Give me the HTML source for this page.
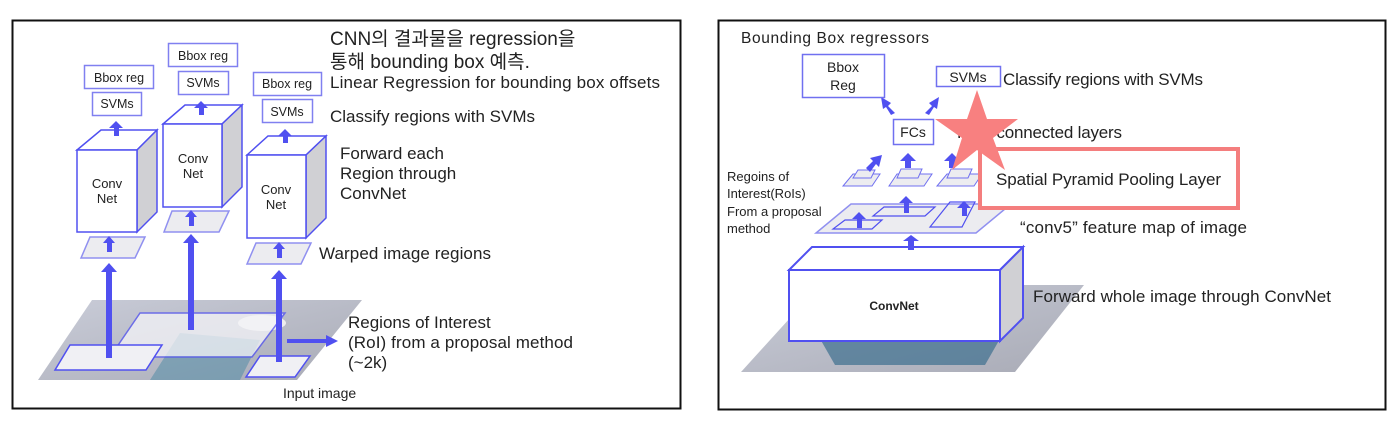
<!DOCTYPE html>
<html><head><meta charset="utf-8"><style>
html,body{margin:0;padding:0;background:#fff;}
svg{display:block;}
text{font-family:"Liberation Sans","Noto Sans CJK KR",sans-serif;fill:#222;}
</style></head><body>
<svg width="1388" height="422" viewBox="0 0 1388 422" xmlns="http://www.w3.org/2000/svg">
<defs>
<linearGradient id="g1" x1="0" y1="0" x2="1" y2="1">
<stop offset="0" stop-color="#c9ccd8"/><stop offset="1" stop-color="#a9abb6"/></linearGradient>
</defs>
<rect x="12.5" y="20.5" width="668" height="388" fill="#fff" stroke="#111" stroke-width="2"/>
<rect x="718.5" y="20.5" width="667" height="389" fill="#fff" stroke="#111" stroke-width="2"/>

<!-- LEFT PANEL -->
<polygon points="38,380 92,300 362,300 297,380" fill="url(#g1)"/>
<polygon points="150,380 180,333 260,340 240,380" fill="#5a8fa8" opacity="0.6"/>
<ellipse cx="262" cy="323" rx="24" ry="8" fill="#eee"/>
<polygon points="140,313 285,313 252,357 110,357" fill="#f4f4f8" opacity="0.75" stroke="#5050f0" stroke-width="1.5"/>
<polygon points="70,345 162,345 146,370 55,370" fill="#f0f0f4" stroke="#5050f0" stroke-width="1.5"/>
<polygon points="260,356 310,356 295,377 246,377" fill="#f0f0f4" stroke="#5050f0" stroke-width="1.5"/>
<polygon points="287,339 326,339 326,335 338,341 326,347 326,343 287,343" fill="#5050f0"/>
<g fill="#5050f0">
<polygon points="106,358 112,358 112,272 117,272 109,263 101,272 106,272"/>
<polygon points="188,330 194,330 194,243 199,243 191,234 183,243 188,243"/>
<polygon points="276,362 282,362 282,279 287,279 279,270 271,279 276,279"/>
</g>
<g fill="#ececf0" stroke="#9090f0" stroke-width="1.5">
<polygon points="90,237 145,237 135,258 81,258"/>
<polygon points="172,211 229,211 219,232 164,232"/>
<polygon points="256,243 311,243 301,264 247,264"/>
</g>
<g fill="#5050f0">
<polygon points="107,252 112,252 112,243 115,243 109,236 103,243 107,243"/>
<polygon points="189,226 194,226 194,217 197,217 191,210 185,217 189,217"/>
<polygon points="277,258 282,258 282,249 285,249 279,242 273,249 277,249"/>
</g>
<g stroke="#5050f0" stroke-width="1.5">
<polygon points="77,150 101,130 157,130 137,150" fill="#fff"/>
<polygon points="137,150 157,130 157,212 137,232" fill="#d0d0d4"/>
<rect x="77" y="150" width="60" height="82" fill="#fff"/>
<polygon points="163,124 185,105 242,105 222,124" fill="#fff"/>
<polygon points="222,124 242,105 242,187 222,207" fill="#d0d0d4"/>
<rect x="163" y="124" width="59" height="83" fill="#fff"/>
<polygon points="247,155 268,136 326,136 306,155" fill="#fff"/>
<polygon points="306,155 326,136 326,218 306,238" fill="#d0d0d4"/>
<rect x="247" y="155" width="59" height="83" fill="#fff"/>
</g>
<g font-size="13" text-anchor="middle">
<text x="107" y="188">Conv</text><text x="107" y="203">Net</text>
<text x="193" y="163">Conv</text><text x="193" y="178">Net</text>
<text x="276" y="194">Conv</text><text x="276" y="209">Net</text>
</g>
<g fill="#5050f0">
<polygon points="114,136 119,136 119,128 123,128 116,121 109,128 114,128"/>
<polygon points="199,115 204,115 204,108 208,108 201,101 194,108 199,108"/>
<polygon points="283,143 288,143 288,136 292,136 285,129 278,136 283,136"/>
</g>
<g fill="#fff" stroke="#8080f0" stroke-width="1.5">
<rect x="84.5" y="65.5" width="69" height="23"/>
<rect x="92.5" y="92.5" width="49" height="23"/>
<rect x="168.5" y="43.5" width="69" height="23"/>
<rect x="178.5" y="71.5" width="50" height="23"/>
<rect x="253.5" y="72.5" width="68" height="23"/>
<rect x="262.5" y="99.5" width="50" height="23"/>
</g>
<g font-size="12.5" text-anchor="middle">
<text x="119" y="82">Bbox reg</text><text x="117" y="108">SVMs</text>
<text x="203" y="60">Bbox reg</text><text x="203" y="87">SVMs</text>
<text x="287" y="88">Bbox reg</text><text x="287" y="116">SVMs</text>
</g>
<text x="330" y="45" font-size="19">CNN의 결과물을 regression을</text>
<text x="330" y="68" font-size="19">통해 bounding box 예측.</text>
<g font-size="17">
<text x="330" y="88" textLength="330">Linear Regression for bounding box offsets</text>
<text x="330" y="122" textLength="205">Classify regions with SVMs</text>
<text x="340" y="159">Forward each</text>
<text x="340" y="179">Region through</text>
<text x="340" y="199">ConvNet</text>
<text x="319" y="259" textLength="172">Warped image regions</text>
<text x="348" y="328">Regions of Interest</text>
<text x="348" y="348" textLength="225">(RoI) from a proposal method</text>
<text x="348" y="368">(~2k)</text>
</g>
<text x="283" y="398" font-size="14">Input image</text>

<!-- RIGHT PANEL -->
<polygon points="741,372 820,285 1084,285 1015,372" fill="url(#g1)"/>
<polygon points="815,330 1005,330 985,365 835,365" fill="#3d6f8f" opacity="0.7"/>
<g stroke="#5050f0" stroke-width="2">
<polygon points="789,270 812,247 1023,247 1000,270" fill="#fff"/>
<polygon points="1000,270 1023,247 1023,318 1000,341" fill="#d0d0d4"/>
<rect x="789" y="270" width="211" height="71" fill="#fff"/>
</g>
<text x="894" y="310" font-size="12" font-weight="bold" text-anchor="middle">ConvNet</text>
<polygon points="851,204 1011,204 976,233 816,233" fill="#ececf0" stroke="#9090f0" stroke-width="1.5"/>
<g fill="none" stroke="#5050f0" stroke-width="1.2">
<polygon points="845,220 882,220 872,229 833,229"/>
<polygon points="884,207 935,207 925,216 873,216"/>
<polygon points="950,202 975,202 962,227 930,227"/>
</g>
<g fill="#5050f0">
<polygon points="908,250 914,250 914,241 919,241 911,235 903,241 908,241"/>
<polygon points="857,228 862,228 862,219 866,219 859,212 852,219 857,219"/>
<polygon points="904,213 909,213 909,203 913,203 906,196 899,203 904,203"/>
<polygon points="962,216 967,216 967,208 971,208 964,201 957,208 962,208"/>
</g>
<g fill="#ececf0" stroke="#7070f0" stroke-width="1">
<polygon points="853,174 880,174 872,186 843,186"/>
<polygon points="858,170 875,170 871,178 853,178"/>
<polygon points="897,174 932,174 924,186 889,186"/>
<polygon points="901,169 922,169 918,178 897,178"/>
<polygon points="947,174 982,174 974,186 937,186"/>
<polygon points="951,169 972,169 968,178 947,178"/>
</g>
<g fill="#5050f0">
<polygon points="866,168 873,161 870,158 882,155 879,167 876,164 870,172"/>
<polygon points="905,168 911,168 911,161 916,161 908,153 900,161 905,161"/>
<polygon points="949,168 955,168 955,161 960,161 952,153 944,161 949,161"/>
<polygon points="895,113 888,106 891,103 881,97 883,109 886,107 891,115"/>
<polygon points="925,113 932,106 929,103 939,97 937,109 934,107 929,115"/>
</g>
<g fill="#fff" stroke="#7070f0" stroke-width="1.5">
<rect x="802.5" y="54.5" width="82" height="43"/>
<rect x="936.5" y="66.5" width="64" height="20"/>
<rect x="893.5" y="119.5" width="40" height="25"/>
</g>
<g font-size="14" text-anchor="middle">
<text x="843" y="72">Bbox</text><text x="843" y="90">Reg</text>
<text x="968" y="82">SVMs</text>
<text x="913" y="137">FCs</text>
</g>
<g font-size="17">
<text x="741" y="43" font-size="15.5" textLength="188">Bounding Box regressors</text>
<text x="1003" y="85" textLength="200">Classify regions with SVMs</text>
<text x="957" y="138" textLength="165">Fully connected layers</text>
<text x="1020" y="233" textLength="227">“conv5” feature map of image</text>
<text x="1033" y="302" textLength="298">Forward whole image through ConvNet</text>
</g>
<g font-size="13">
<text x="727" y="181">Regoins of</text>
<text x="727" y="198">Interest(RoIs)</text>
<text x="727" y="216">From a proposal</text>
<text x="727" y="233">method</text>
</g>
<rect x="980" y="149" width="258" height="59" fill="#fff" stroke="#f47e7e" stroke-width="4"/>
<text x="996" y="185" font-size="17" textLength="225">Spatial Pyramid Pooling Layer</text>
<polygon points="977,90 987,119 1018,119 993,138 1005,170 977,150 952,170 962,138 935,119 967,119" fill="#f88080"/>
</svg>
</body></html>
